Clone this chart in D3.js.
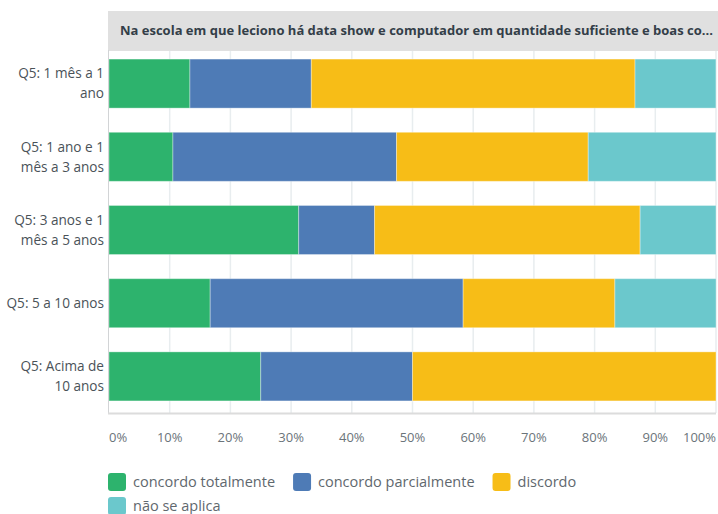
<!DOCTYPE html>
<meta charset="utf-8">
<head>
    <style>
        body { margin: 0; background: #fff; }
        text { font-family: "Open Sans", Roboto, sans-serif; }
        .grid line { stroke: #e8edef; stroke-width: 1.5px; }
        .ylab { font-size: 13.6px; fill: #4a5258; }
        .xtick { font-size: 13px; fill: #6b747a; }
        .legend text { font-size: 14.5px; fill: #5f686e; }
    </style>
</head>
<body>
<svg width="718" height="514"></svg>
<script src="https://d3js.org/d3.v7.min.js"></script>
<script>

    var categories = [
        ["Q5: 1 mês a 1", "ano"],
        ["Q5: 1 ano e 1", "mês a 3 anos"],
        ["Q5: 3 anos e 1", "mês a 5 anos"],
        ["Q5: 5 a 10 anos"],
        ["Q5: Acima de", "10 anos"]
    ];
    var seriesNames = ["concordo totalmente", "concordo parcialmente", "discordo", "não se aplica"];
    var concordoTotalmente   = [13.33, 10.53, 31.25, 16.67, 25];
    var concordoParcialmente = [20.00, 36.84, 12.50, 41.67, 25];
    var discordo             = [53.33, 31.58, 43.75, 25.00, 50];
    var naoSeAplica          = [13.33, 21.05, 12.50, 16.67, 0];
    var tickLabels = ["0%", "10%", "20%", "30%", "40%", "50%", "60%", "70%", "80%", "90%", "100%"];
    var title = "Na escola em que leciono há data show e computador em quantidade suficiente e boas co...";

    var colors = ["#2db36d", "#4e7bb6", "#f7bd17", "#6bc8cc"];
    var series = [concordoTotalmente, concordoParcialmente, discordo, naoSeAplica];

    var svg = d3.select("svg");
    var plotLeft = 109, plotRight = 716, plotTop = 47, plotBottom = 413;

    var x = d3.scaleLinear().domain([0, 100]).range([plotLeft, plotRight]);
    var y = d3.scaleBand()
        .domain(d3.range(categories.length))
        .range([plotTop, plotBottom])
        .paddingInner(0.33)
        .paddingOuter(0.165);

    // gridlines
    svg.append("g").attr("class", "grid")
        .selectAll("line")
        .data(d3.range(10, 101, 10))
        .enter().append("line")
        .attr("x1", function (d) { return x(d); })
        .attr("x2", function (d) { return x(d); })
        .attr("y1", 50)
        .attr("y2", plotBottom);

    // header
    svg.append("rect")
        .attr("x", plotLeft - 1).attr("y", 11)
        .attr("width", 718 - plotLeft + 1).attr("height", 40)
        .attr("fill", "#e0e0e0");
    svg.append("text")
        .attr("x", 120).attr("y", 30)
        .attr("dy", "0.35em")
        .style("font-size", "13px")
        .style("font-weight", "bold")
        .style("fill", "#333e48")
        .text(title);

    // stacked bars
    var stack = categories.map(function (c, i) {
        var acc = 0;
        return series.map(function (s, k) {
            var seg = { row: i, k: k, x0: acc, x1: acc + s[i] };
            acc += s[i];
            return seg;
        });
    });

    svg.append("g")
        .selectAll("rect")
        .data(d3.merge(stack).filter(function (d) { return d.x1 > d.x0; }))
        .enter().append("rect")
        .attr("x", function (d) { return x(d.x0); })
        .attr("width", function (d) { return x(d.x1) - x(d.x0); })
        .attr("y", function (d) { return y(d.row); })
        .attr("height", y.bandwidth())
        .attr("fill", function (d) { return colors[d.k]; })
        .attr("stroke", "rgba(255,255,255,0.35)")
        .attr("stroke-width", 1);

    // axis lines
    svg.append("line")
        .attr("x1", plotLeft - 0.5).attr("x2", plotLeft - 0.5)
        .attr("y1", 50).attr("y2", plotBottom + 1)
        .attr("stroke", "#d2d4d6").attr("stroke-width", 1);
    svg.append("line")
        .attr("x1", plotLeft - 1).attr("x2", plotRight)
        .attr("y1", plotBottom + 0.5).attr("y2", plotBottom + 0.5)
        .attr("stroke", "#dcdcdc").attr("stroke-width", 2);

    // y labels
    var ylab = svg.append("g").selectAll("text")
        .data(categories)
        .enter().append("text")
        .attr("class", "ylab")
        .attr("text-anchor", "end")
        .attr("y", function (d, i) { return y(i) + y.bandwidth() / 2; });
    ylab.each(function (lines) {
        var t = d3.select(this);
        var off = -(lines.length - 1) * 10;
        lines.forEach(function (l, j) {
            t.append("tspan")
                .attr("x", 104)
                .attr("dy", j === 0 ? (off / 13.6 + 0.35) + "em" : "20px")
                .text(l);
        });
    });

    // x tick labels
    svg.append("g").selectAll("text")
        .data(tickLabels)
        .enter().append("text")
        .attr("class", "xtick")
        .attr("y", 437)
        .attr("dy", "0.35em")
        .attr("x", function (d, i) { return x(i * 10); })
        .attr("text-anchor", function (d, i) { return i === 0 ? "start" : (i === 10 ? "end" : "middle"); })
        .text(function (d) { return d; });

    // legend (flowing, wraps like the original container)
    var lg = svg.append("g").attr("class", "legend");
    var legendRight = 690;
    var lx = plotLeft - 1, ly = 473, rowH = 24;
    seriesNames.forEach(function (name, k) {
        var item = lg.append("g");
        item.append("rect")
            .attr("width", 18).attr("height", 18)
            .attr("rx", 3)
            .attr("fill", colors[k]);
        var t = item.append("text")
            .attr("x", 25).attr("y", 9)
            .attr("dy", "0.35em")
            .text(name);
        var w = 25 + t.node().getComputedTextLength();
        if (lx + w > legendRight && lx > plotLeft) {
            lx = plotLeft - 1;
            ly += rowH;
        }
        item.attr("transform", "translate(" + lx + "," + ly + ")");
        lx += w + 18;
    });

</script>
</body>
